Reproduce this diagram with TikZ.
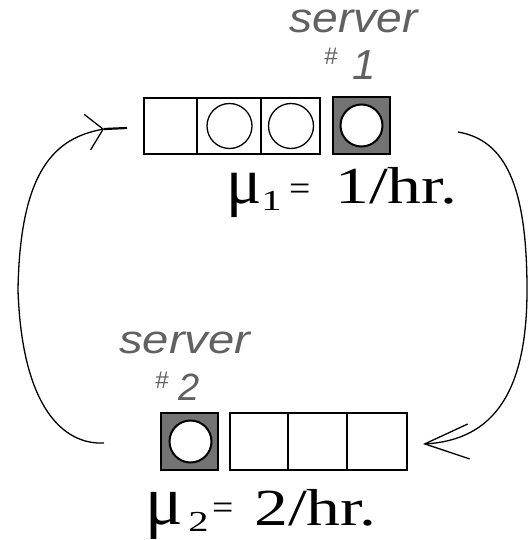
\documentclass[tikz,border=0pt]{standalone}
\usepackage{fontspec}
\setmainfont{Liberation Serif}
\newfontfamily\labelfont{Liberation Sans}
\usetikzlibrary{arrows.meta}

\tikzset{
  x=1pt, y=-1pt,
  cell/.style={draw, line width=1.6pt},
  busy/.style={draw, line width=1.6pt, fill=black!55},
  job/.style={draw, line width=1.3pt},
  servjob/.style={draw, line width=2pt, fill=white},
  flow/.style={line width=1.3pt},
  txt/.style={inner sep=0pt, anchor=base west},
  srvtxt/.style={txt, text=black!62},
  srvname/.style={srvtxt, font=\labelfont\itshape\fontsize{42}{42}\selectfont},
  subtxt/.style={txt, xscale=1.4, font=\fontsize{29}{29}\selectfont},
  eqtxt/.style={txt, xscale=1.05, font=\fontsize{36}{36}\selectfont},
  ratetxt/.style={txt, xscale=1.3, font=\fontsize{52}{52}\selectfont},
}

\begin{document}
\begin{tikzpicture}
\useasboundingbox (0,0) rectangle (528,540);

% queue 1 and its server
\draw[cell] (144,98) rectangle (320,154);
\draw[cell] (197,98) -- (197,154);
\draw[cell] (261,98) -- (261,154);
\draw[job] (229.5,126) circle (22.5);
\draw[job] (291,126) circle (22.5);
\draw[busy] (333,97) rectangle (390,154);
\draw[servjob] (361.5,125.5) circle (21);

\node[srvname, xscale=1.1] (s1) at (289,33) {server};
\node[srvtxt, font=\labelfont\itshape\fontsize{24}{24}\selectfont] (h1) at (324,65) {\#};
\node[srvtxt, font=\labelfont\itshape\fontsize{42}{42}\selectfont] (n1) at (352,80) {1};

\node[txt, font=\fontsize{66}{66}\selectfont] (mu1) at (226,203) {μ};
\node[subtxt] (sub1) at (261,210) {1};
\node[eqtxt] (eq1) at (289,200) {=};
\node[ratetxt] (r1) at (335,203) {1/hr.};

% queue 2 and its server
\draw[busy] (161,413) rectangle (218,470);
\draw[servjob] (190.5,441.5) circle (21);
\draw[cell] (230,413) rectangle (407,470);
\draw[cell] (288,413) -- (288,470);
\draw[cell] (347,413) -- (347,470);

\node[srvname, font=\labelfont\itshape\fontsize{40}{40}\selectfont, xscale=1.18] (s2) at (119,353) {server};
\node[srvtxt, font=\labelfont\itshape\fontsize{24}{24}\selectfont] (h2) at (155,388) {\#};
\node[srvtxt, font=\labelfont\itshape\fontsize{38}{38}\selectfont] (n2) at (178,400) {2};

\node[txt, font=\fontsize{70}{70}\selectfont] (mu2) at (145,524) {μ};
\node[subtxt] (sub2) at (188,531) {2};
\node[eqtxt] (eq2) at (212,519) {=};
\node[ratetxt] (r2) at (254,525) {2/hr.};

% routing between the two stations
\coordinate (out2) at (104,443);
\coordinate (tip1) at (104,129);
\coordinate (in1) at (127,128);
\coordinate (out1) at (458,132);
\coordinate (in2) at (423,444);

\draw[flow, -{Straight Barb[length=16pt, width=36pt, line width=1.3pt]}]
  (out2) .. controls (65,445) and (22,410) .. (18,290)
         .. controls (20,170) and (55,138) .. (tip1);
\draw[flow, line width=2.2pt] (tip1) -- (in1);
\draw[flow, -{Straight Barb[length=44pt, width=35pt, line width=1.3pt]}]
  (out1) .. controls (505,140) and (527,185) .. (527,290)
         .. controls (527,390) and (495,440) .. (in2);
\end{tikzpicture}
\end{document}
